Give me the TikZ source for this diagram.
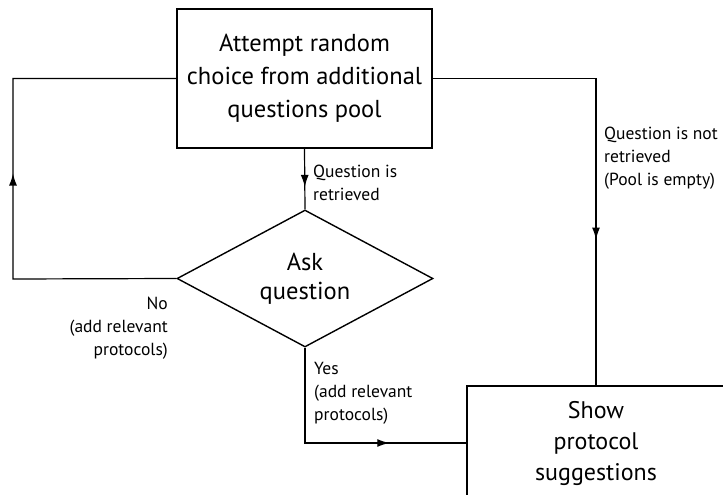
\documentclass[tikz,border=0pt]{standalone}
\usepackage{fontspec}
\setmainfont{PT Sans}
\usetikzlibrary{shapes.geometric,arrows.meta,decorations.markings}
\begin{document}
\begin{tikzpicture}[x=1pt,y=-1pt,
  box/.style={draw,line width=1.6pt,inner sep=0pt,align=center,font=\fontsize{24.5}{33}\selectfont},
  dia/.style={draw,diamond,line width=1.4pt,inner sep=0pt,minimum width=256pt,minimum height=137pt,aspect=1.87,align=center,font=\fontsize{24.5}{29}\selectfont},
  lab/.style={inner sep=0pt,font=\fontsize{17.5}{23}\selectfont},
  conn/.style={line width=1.2pt,postaction={decorate},decoration={markings,mark=at position #1 with {\arrow{Latex[length=12pt,width=8pt]}}}},
]
\useasboundingbox (0,0) rectangle (723,495);
\fill[white] (0,0) rectangle (723,495);
\node[box,minimum width=255pt,minimum height=139pt] (attempt) at (304.5,78.5) {Attempt random\\choice from additional\\questions pool};
\node[dia] (ask) at (305,278.5) {Ask\\question};
\node[box,minimum width=258pt,minimum height=114pt,font=\fontsize{24}{31}\selectfont] (show) at (596,443) {Show\\protocol\\suggestions};
\coordinate (lcorner) at (13,279);
\draw[conn=0.63] (attempt.south) -- (ask.north);
\draw[conn=0.51] (ask.west) -- (lcorner) |- (attempt.west);
\draw[conn=0.69] (attempt.east) -| (show.north);
\draw[conn=0.70] (ask.south) |- (show.west);
\node[lab,anchor=north west,align=left] (lret) at (313,165) {Question is\\retrieved};
\node[lab,anchor=north west,align=left] (lnot) at (604,127) {Question is not\\retrieved\\(Pool is empty)};
\node[lab,anchor=north east,align=right] (lno) at (168,297) {No\\(add relevant\\protocols)};
\node[lab,anchor=north west,align=left] (lyes) at (314,362) {Yes\\(add relevant\\protocols)};
\end{tikzpicture}
\end{document}
